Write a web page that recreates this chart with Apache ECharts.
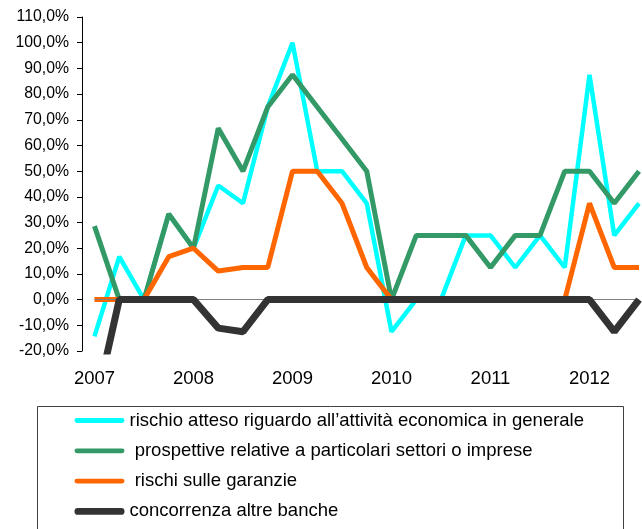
<!DOCTYPE html>
<html>
<head>
<meta charset="utf-8">
<script src="https://cdn.jsdelivr.net/npm/echarts@6/dist/echarts.min.js"></script>
<style>
  html, body { margin: 0; padding: 0; background: #fff; }
  #chart { width: 642px; height: 529px; }
</style>
</head>
<body>
<div id="chart"></div>
<script>
// trimestri 2007 Q1 - 2012 Q3
const xLabels = ['2007', '', '', '', '2008', '', '', '', '2009', '', '', '',
                 '2010', '', '', '', '2011', '', '', '', '2012', '', ''];

const seriesNames = [
  'rischio atteso riguardo all\u2019attività economica in generale',
  ' prospettive relative a particolari settori o imprese',
  ' rischi sulle garanzie',
  'concorrenza altre banche'
];

const rischioAtteso = [-14.3, 16.7, 0, 33.3, 20, 44.4, 37.5, 75, 100, 50, 50, 37.5,
                       -12.5, 0, 0, 25, 25, 12.5, 25, 12.5, 87.5, 25, 37.5];
const prospettive = [28.6, 0, 0, 33.3, 20, 66.7, 50, 75, 87.5, 75, 62.5, 50,
                     0, 25, 25, 25, 12.5, 25, 25, 50, 50, 37.5, 50];
const garanzie = [0, 0, 0, 16.7, 20, 11.1, 12.5, 12.5, 50, 50, 37.5, 12.5,
                  0, 0, 0, 0, 0, 0, 0, 0, 37.5, 12.5, 12.5];
const concorrenza = [-42.9, 0, 0, 0, 0, -11.1, -12.5, 0, 0, 0, 0, 0,
                     0, 0, 0, 0, 0, 0, 0, 0, 0, -12.5, 0];

const colors = ['#00FFFF', '#339966', '#FF6600', '#333333'];
const widths = [4.5, 5, 5, 7];
const values = [rischioAtteso, prospettive, garanzie, concorrenza];

const font = 'Liberation Sans, Arial, sans-serif';

// icona della legenda: barra con estremi arrotondati
function barIcon(h) {
  let r = h / 2;
  return 'path://M' + r + ',0 L' + (52 - r) + ',0 A' + r + ',' + r + ' 0 0 1 ' + (52 - r) + ',' + h +
    ' L' + r + ',' + h + ' A' + r + ',' + r + ' 0 0 1 ' + r + ',0 Z';
}

let myChart = echarts.init(document.getElementById('chart'));

let series = values.map(function (v, i) {
  let s = {
    name: seriesNames[i],
    type: 'line',
    data: v,
    symbol: 'none',
    lineStyle: { color: colors[i], width: widths[i] },
    itemStyle: { color: colors[i] },
    z: 2 + i
  };
  if (i === 0) {
    // linea dello zero
    s.markLine = {
      silent: true,
      symbol: 'none',
      label: { show: false },
      lineStyle: { color: '#808080', width: 1, type: 'solid' },
      data: [{ yAxis: 0 }]
    };
  }
  return s;
});

let option = {
  animation: false,
  backgroundColor: '#ffffff',
  grid: {
    left: 94.5,
    top: 17,
    width: 546.5,
    height: 334
  },
  xAxis: {
    type: 'category',
    data: xLabels,
    boundaryGap: false,
    axisLine: { show: false },
    axisTick: { show: false },
    axisLabel: {
      interval: 0,
      margin: 18,
      color: '#000',
      fontSize: 18.5,
      fontFamily: font
    },
    splitLine: { show: false }
  },
  yAxis: {
    type: 'value',
    min: -20,
    max: 110,
    interval: 10,
    offset: 12.5,
    axisLine: { show: true, lineStyle: { color: '#000', width: 1 } },
    axisTick: { show: true, length: 5, lineStyle: { color: '#000' } },
    axisLabel: {
      margin: 13,
      color: '#000',
      fontSize: 15.8,
      fontFamily: font,
      formatter: function (val) {
        return val.toFixed(1).replace('.', ',') + '%';
      }
    },
    splitLine: { show: false }
  },
  legend: {
    orient: 'vertical',
    left: 74.5,
    top: 411,
    padding: 0,
    itemWidth: 50,
    itemHeight: 20,
    itemGap: 11.3,
    selectedMode: false,
    textStyle: { color: '#000', fontSize: 18.5, fontFamily: font },
    data: seriesNames.map(function (n, i) {
      return {
        name: n,
        icon: barIcon(i === 3 ? 7 : 5),
        itemStyle: { color: colors[i] }
      };
    })
  },
  graphic: [{
    type: 'rect',
    shape: { x: 37.5, y: 406.5, width: 586, height: 200 },
    style: { fill: 'none', stroke: '#404040', lineWidth: 1 },
    silent: true
  }],
  series: series
};

myChart.setOption(option);
</script>
</body>
</html>
